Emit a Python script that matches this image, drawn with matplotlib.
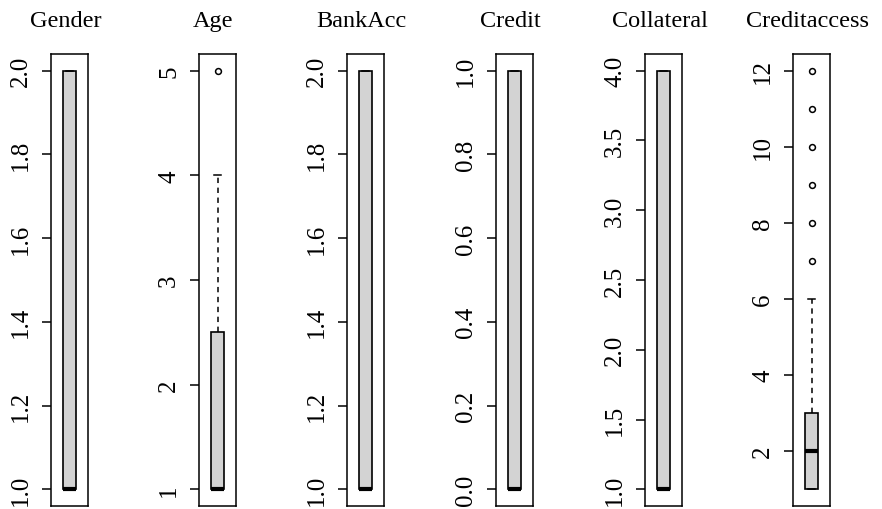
import matplotlib
matplotlib.use('Agg')
import matplotlib.pyplot as plt

plt.rcParams['font.family'] = ['Liberation Serif', 'DejaVu Serif']

# Variables and their box summaries (lower whisker, Q1, median, Q3, upper whisker, outliers).
names = ['Gender', 'Age', 'BankAcc', 'Credit', 'Collateral', 'Creditaccess']
whis_lo = [1, 1, 1, 0, 1, 1]
q1 = [1, 1, 1, 0, 1, 1]
median = [1, 1, 1, 0, 1, 2]
q3 = [2, 2.5, 2, 1, 4, 3]
whis_hi = [2, 4, 2, 1, 4, 6]
outliers = [[], [5], [], [], [], [7, 8, 9, 10, 11, 12]]

# Axis tick positions and labels.
yticks = [
    [1.0, 1.2, 1.4, 1.6, 1.8, 2.0],
    [1, 2, 3, 4, 5],
    [1.0, 1.2, 1.4, 1.6, 1.8, 2.0],
    [0.0, 0.2, 0.4, 0.6, 0.8, 1.0],
    [1.0, 1.5, 2.0, 2.5, 3.0, 3.5, 4.0],
    [2, 4, 6, 8, 10, 12],
]
ytick_labels = [
    ['1.0', '1.2', '1.4', '1.6', '1.8', '2.0'],
    ['1', '2', '3', '4', '5'],
    ['1.0', '1.2', '1.4', '1.6', '1.8', '2.0'],
    ['0.0', '0.2', '0.4', '0.6', '0.8', '1.0'],
    ['1.0', '1.5', '2.0', '2.5', '3.0', '3.5', '4.0'],
    ['2', '4', '6', '8', '10', '12'],
]

W, H = 882, 510
fig = plt.figure(figsize=(W / 100, H / 100), dpi=100)

lefts = [51, 199, 347, 496, 645, 793]
panel_w = 37
top_px, bot_px = 55, 507

for i, name in enumerate(names):
    ax = fig.add_axes([lefts[i] / W, (H - bot_px) / H, panel_w / W, (bot_px - top_px) / H])
    stats = [dict(whislo=whis_lo[i], q1=q1[i], med=median[i], q3=q3[i],
                  whishi=whis_hi[i], fliers=outliers[i])]
    ax.bxp(stats, positions=[1], widths=0.4, capwidths=0.2, patch_artist=True,
           boxprops=dict(facecolor='#d3d3d3', edgecolor='black', linewidth=1.2),
           medianprops=dict(color='black', linewidth=3.0, solid_capstyle='butt'),
           whiskerprops=dict(color='black', linestyle=(0, (3.5, 3)), linewidth=1.1),
           capprops=dict(color='black', linewidth=1.1),
           flierprops=dict(marker='o', markersize=4.2, markerfacecolor='none',
                           markeredgecolor='black', markeredgewidth=1.1))

    # Data range padded by 4% like R's default axis style.
    lo = min([whis_lo[i]] + outliers[i])
    hi = max([whis_hi[i]] + outliers[i])
    pad = 0.04 * (hi - lo)
    ax.set_ylim(lo - pad, hi + pad)
    ax.set_xlim(0.46, 1.54)

    ax.set_xticks([])
    ax.set_yticks(yticks[i])
    ax.set_yticklabels(ytick_labels[i], rotation=90, va='center')
    ax.tick_params(axis='y', direction='out', length=6.5, width=1.1, pad=7, labelsize=18)
    for s in ax.spines.values():
        s.set_linewidth(1.1)

    ax.set_title(name, fontsize=17.5, pad=20, x=0.5 - 4 / panel_w)

fig.savefig('out.png', dpi=100)
